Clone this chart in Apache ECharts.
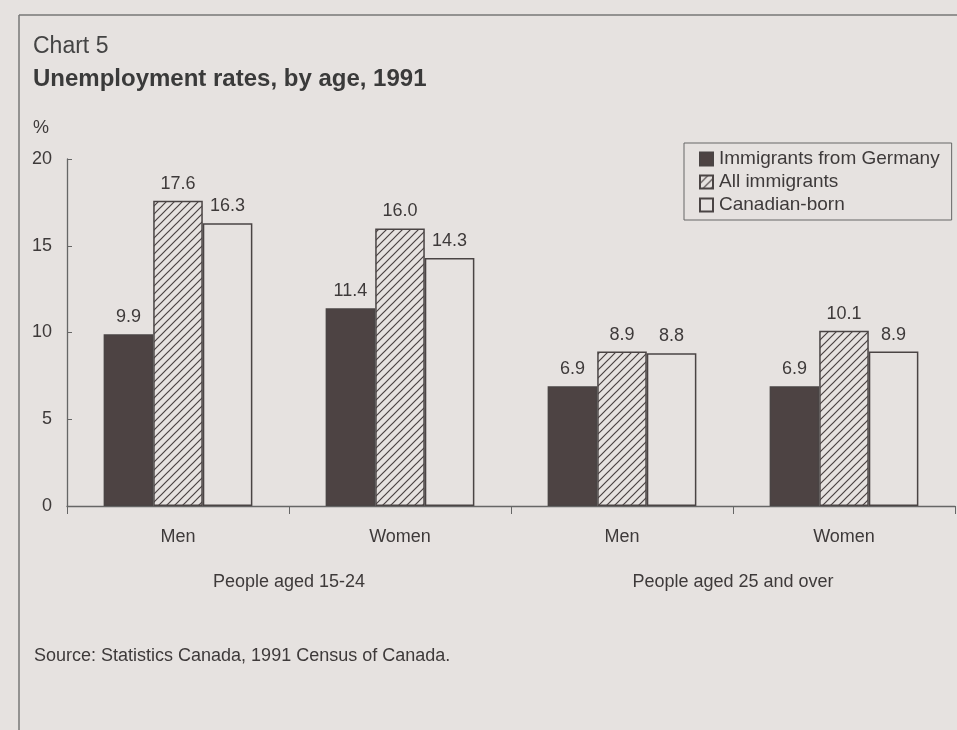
<!DOCTYPE html>
<html>
<head>
<meta charset="utf-8">
<script src="https://cdn.jsdelivr.net/npm/echarts@6/dist/echarts.min.js"></script>
<style>
html,body{margin:0;padding:0;background:#e6e2e0;}
#chart{width:957px;height:730px;}
</style>
</head>
<body>
<div id="chart"></div>
<script>
// ---- data ----
var categories = ['Men', 'Women', 'Men', 'Women'];
var groups = ['People aged 15-24', 'People aged 25 and over'];
var seriesNames = ['Immigrants from Germany', 'All immigrants', 'Canadian-born'];
var germany = [9.9, 11.4, 6.9, 6.9];
var allImmigrants = [17.6, 16.0, 8.9, 10.1];
var canadianBorn = [16.3, 14.3, 8.8, 8.9];
var yTicks = [0, 5, 10, 15, 20];
var sourceNote = 'Source: Statistics Canada, 1991 Census of Canada.';

// ---- styles ----
var BG = '#e6e2e0';
var INK = '#3e3a3a';
var FONT = 'Liberation Sans, Arial, sans-serif';

function hatch() {
  var c = document.createElement('canvas');
  var s = 8;
  c.width = s; c.height = s;
  var g = c.getContext('2d');
  g.fillStyle = BG;
  g.fillRect(0, 0, s, s);
  g.strokeStyle = '#4a4242';
  g.lineWidth = 1.2;
  g.beginPath();
  g.moveTo(-1, s + 1); g.lineTo(s + 1, -1);
  g.moveTo(-1, 1); g.lineTo(1, -1);
  g.moveTo(s - 1, s + 1); g.lineTo(s + 1, s - 1);
  g.stroke();
  return c;
}

var chart = echarts.init(document.getElementById('chart'));
var labelCfg = {show: true, position: 'top', distance: 8, color: INK, fontSize: 18, fontFamily: FONT,
  formatter: function (p) { return p.value.toFixed(1); }};
var border = {borderColor: '#4a4444', borderWidth: 1.5};

chart.setOption({
  backgroundColor: BG,
  animation: false,
  textStyle: {fontFamily: FONT, color: INK},
  title: [
    {text: 'Chart 5', left: 28, top: 30, textStyle: {fontSize: 23, fontWeight: 'normal', color: '#444', fontFamily: FONT}},
    {text: 'Unemployment rates, by age, 1991', left: 28, top: 62, textStyle: {fontSize: 24, fontWeight: 'bold', color: '#3a3a3a', fontFamily: FONT}}
  ],
  graphic: [
    {type: 'line', shape: {x1: 19, y1: 15, x2: 957, y2: 15}, style: {stroke: '#777', lineWidth: 1.5}},
    {type: 'line', shape: {x1: 19, y1: 15, x2: 19, y2: 730}, style: {stroke: '#777', lineWidth: 1.5}},
    {type: 'text', left: 33, top: 119, style: {text: '%', fontSize: 18, fontFamily: FONT, fill: INK}},
    {type: 'text', left: 34, top: 647, style: {text: sourceNote, fontSize: 18, fontFamily: FONT, fill: INK}}
  ],
  legend: {
    orient: 'vertical', left: 684, top: 143,
    padding: [6, 12, 5, 15],
    borderColor: '#666', borderWidth: 1,
    itemWidth: 13, itemHeight: 13, itemGap: 3,
    icon: 'rect',
    textStyle: {fontSize: 19, color: INK, fontFamily: FONT, lineHeight: 20, padding: [0, 0, 0, 1]},
    data: seriesNames
  },
  grid: {left: 67, right: 2, top: 159, bottom: 224},
  xAxis: [
    {type: 'category', data: categories,
     axisLine: {lineStyle: {color: '#666', width: 1.3}},
     axisTick: {show: true, inside: false, length: 8, lineStyle: {color: '#666'}},
     axisLabel: {fontSize: 18, color: INK, margin: 22, fontFamily: FONT}},
    {type: 'category', data: groups, position: 'bottom',
     axisLine: {show: false}, axisTick: {show: false},
     axisLabel: {fontSize: 18, color: INK, margin: 67, fontFamily: FONT}}
  ],
  yAxis: {
    type: 'value', min: yTicks[0], max: yTicks[yTicks.length - 1], interval: yTicks[1] - yTicks[0],
    splitLine: {show: false},
    axisLine: {show: true, lineStyle: {color: '#666', width: 1.3}},
    axisTick: {show: true, inside: true, length: 5, lineStyle: {color: '#666'}},
    axisLabel: {fontSize: 18, color: INK, margin: 15, fontFamily: FONT}
  },
  series: [
    {name: seriesNames[0], type: 'bar', data: germany, barGap: '0%', barCategoryGap: '33%',
     itemStyle: Object.assign({color: '#4d4343'}, border), label: labelCfg},
    {name: seriesNames[1], type: 'bar', data: allImmigrants, barGap: '0%', barCategoryGap: '33%',
     itemStyle: Object.assign({color: {image: hatch(), repeat: 'repeat'}}, border), label: labelCfg},
    {name: seriesNames[2], type: 'bar', data: canadianBorn, barGap: '0%', barCategoryGap: '33%',
     itemStyle: Object.assign({color: BG}, border), label: labelCfg}
  ]
});
</script>
</body>
</html>
